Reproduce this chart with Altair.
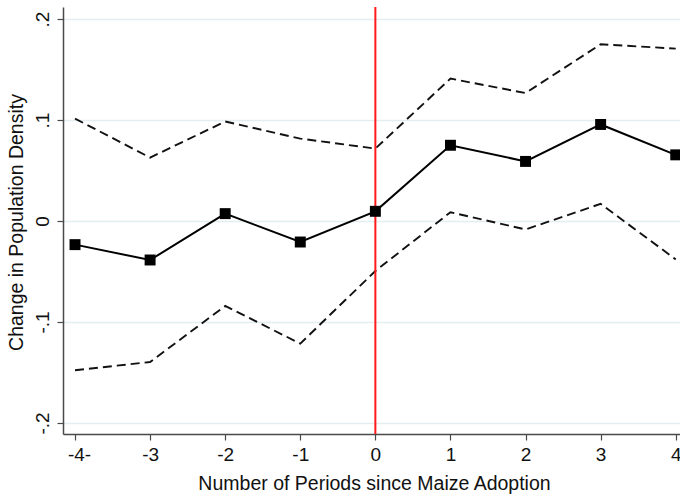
import altair as alt
import pandas as pd

# Event-study estimates: change in population density by period relative to maize adoption
periods = [-4, -3, -2, -1, 0, 1, 2, 3, 4]
estimate = [-0.0234, -0.0386, 0.0073, -0.0208, 0.0096, 0.0750, 0.0590, 0.0956, 0.0655]
ci_upper = [0.1014, 0.0628, 0.0985, 0.0816, 0.0717, 0.1410, 0.1267, 0.1750, 0.1707]
ci_lower = [-0.1478, -0.1396, -0.0841, -0.1214, -0.0495, 0.0087, -0.0084, 0.0170, -0.0380]

x_ticks = [-4, -3, -2, -1, 0, 1, 2, 3, 4]
x_labels = ["-4-", "-3", "-2", "-1", "0", "1", "2", "3", "4"]
y_ticks = [-0.2, -0.1, 0, 0.1, 0.2]
y_labels = ["-.2", "-.1", "0", ".1", ".2"]

x_title = "Number of Periods since Maize Adoption"
y_title = "Change in Population Density"

df = pd.DataFrame({
    "period": periods,
    "estimate": estimate,
    "upper": ci_upper,
    "lower": ci_lower,
})

FONT = "Liberation Sans"
INK = "#111111"
AXIS_GREY = "#4a4a4a"

x_label_expr = "[" + ",".join(f"'{s}'" for s in x_labels) + "][round(datum.value) + 4]"
y_label_expr = "[" + ",".join(f"'{s}'" for s in y_labels) + "][round(datum.value * 10) + 2]"

x_scale = alt.Scale(domain=[-4.16, 4.057], nice=False, zero=False)
y_scale = alt.Scale(domain=[-0.2109, 0.2119], nice=False, zero=False)

x_axis = alt.Axis(
    values=x_ticks,
    labelExpr=x_label_expr,
    title=x_title,
    grid=False,
    domainColor=AXIS_GREY,
    domainWidth=1.5,
    tickColor=AXIS_GREY,
    tickWidth=1.2,
    tickSize=6,
    labelPadding=5,
    labelFont=FONT,
    labelFontSize=19,
    labelColor=INK,
    labelOffset={"condition": {"test": "datum.value == -4", "value": 4}, "value": 0},
    titleFont=FONT,
    titleFontSize=19.5,
    titleFontWeight="normal",
    titleColor=INK,
    titleBaseline="alphabetic",
    titleY=55,
    titleX=311,
)

y_axis = alt.Axis(
    values=y_ticks,
    labelExpr=y_label_expr,
    title=y_title,
    grid=True,
    gridColor="#e4eef0",
    gridWidth=1.5,
    domainColor=AXIS_GREY,
    domainWidth=1.5,
    tickColor=AXIS_GREY,
    tickWidth=1.2,
    tickSize=6,
    labelAngle=270,
    labelAlign="center",
    labelBaseline="alphabetic",
    labelPadding=9,
    labelFont=FONT,
    labelFontSize=19,
    labelColor=INK,
    titleFont=FONT,
    titleFontSize=19.5,
    titleFontWeight="normal",
    titleColor=INK,
    titleAngle=270,
    titleBaseline="alphabetic",
    titleAlign="center",
    titleX=-41,
    titleY=215,
)

base = alt.Chart(df)

bounds_upper = base.mark_line(color="#111111", strokeWidth=1.9, strokeDash=[9, 5], clip=False).encode(
    x=alt.X("period:Q", scale=x_scale, axis=x_axis),
    y=alt.Y("upper:Q", scale=y_scale, axis=y_axis),
)

bounds_lower = base.mark_line(color="#111111", strokeWidth=1.9, strokeDash=[9, 5], clip=False).encode(
    x=alt.X("period:Q", scale=x_scale),
    y=alt.Y("lower:Q", scale=y_scale),
)

adoption = alt.Chart(pd.DataFrame({"period": [0]})).mark_rule(color="#ff1a1a", strokeWidth=2).encode(
    x=alt.X("period:Q", scale=x_scale),
)

point_line = base.mark_line(color="#000000", strokeWidth=2, clip=False).encode(
    x=alt.X("period:Q", scale=x_scale),
    y=alt.Y("estimate:Q", scale=y_scale),
)

point_marks = base.mark_point(shape="square", filled=True, color="#000000", size=120, opacity=1, clip=False).encode(
    x=alt.X("period:Q", scale=x_scale),
    y=alt.Y("estimate:Q", scale=y_scale),
)

chart = (
    alt.layer(bounds_upper, bounds_lower, adoption, point_line, point_marks)
    .properties(
        width=617,
        height=427,
        autosize=alt.AutoSizeParams(type="none"),
        padding={"left": 63, "top": 7, "right": 0, "bottom": 62},
        background="white",
    )
    .configure_view(stroke=None)
)

chart.save("out.html", embed_options={"renderer": "svg", "actions": False})
